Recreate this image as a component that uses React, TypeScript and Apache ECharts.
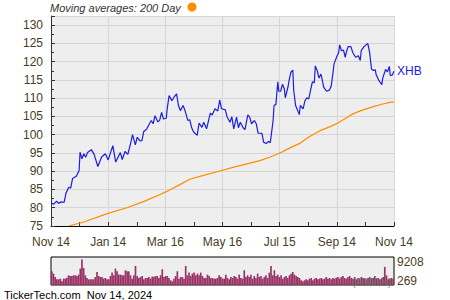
import React, { useEffect, useRef } from "react";
import * as echarts from "echarts";

// Calendar-day offset from Nov 14, 2023 and closing price
const priceDay = [0,3,6,8,11,14,16,19,21,23,27,30,31,33,35,37,39,43,46,50,54,58,61,66,69,74,76,79,82,85,87,90,92,95,97,99,102,104,107,109,111,114,116,118,120,123,124,126,129,131,134,136,138,141,143,146,148,150,152,156,158,161,163,166,170,172,175,178,180,182,186,188,191,193,195,198,200,202,205,207,210,212,214,217,219,221,225,227,230,232,234,237,238,240,242,243,245,247,249,250,253,254,256,258,259,261,265,266,269,271,273,275,277,279,281,282,284,286,288,289,291,294,297,299,301,302,305,307,308,310,312,314,315,317,320,322,325,328,330,331,334,337,338,340,342,344,346,347,350,353,354,357,359,361,362,364,366];
const priceValue = [81.3,81.0,81.8,81.2,81.6,81.5,84.0,85.6,85.4,88.0,88.6,90.2,95.2,93.4,94.8,93.8,95.1,95.9,94.6,91.3,93.9,94.8,93.1,97.0,92.5,95.1,93.2,95.4,94.6,97.7,100.0,97.2,99.3,98.3,98.4,100.9,101.5,102.5,103.9,103.0,105.2,103.5,104.0,106.1,104.3,104.5,107.1,110.7,109.3,110.2,111.2,108.0,106.6,108.0,106.6,103.9,104.1,102.0,100.8,99.8,103.2,102.0,103.4,101.6,105.9,105.4,107.1,106.5,109.5,107.1,106.8,104.8,103.4,104.9,101.6,104.8,101.9,103.4,101.9,101.4,105.4,104.8,103.0,103.9,103.0,100.4,100.4,97.9,97.6,98.2,97.8,103.9,108.0,108.3,114.5,111.9,111.9,113.8,112.5,110.1,113.2,114.8,117.1,117.7,112.1,108.0,105.5,108.0,107.1,109.3,110.1,109.8,112.2,114.5,114.2,118.8,117.6,115.5,116.6,115.5,113.0,111.9,112.2,113.3,117.1,119.4,121.4,122.5,124.6,123.0,123.2,121.2,122.5,124.1,124.1,122.5,121.2,121.6,120.3,123.0,124.1,124.8,125.0,122.5,118.0,117.6,117.8,116.4,114.8,113.7,115.5,117.9,117.2,118.7,116.2,116.3,117.4];

// 200-day moving average
const maDay = [19,35,60,81,100,117,123,138,148,159,182,195,209,223,234,246,255,266,276,287,298,306,315,322,333,344,354,363,366];
const maValue = [75.0,76.1,78.4,80.0,81.8,83.7,84.4,86.4,87.8,88.6,90.2,91.1,92.0,92.9,93.9,95.2,96.4,97.7,99.5,101.1,102.2,103.2,104.6,105.7,106.8,107.7,108.4,108.9,109.0];

// Daily volume (thousands)
const volume = [4510,3740,2640,1870,1870,2090,1210,2090,2090,2420,3190,2970,2970,3190,3190,2970,3410,5390,8360,5610,3190,2310,1870,1870,1870,1870,2640,4290,2970,2640,2640,2090,2310,1870,1870,2970,4070,3190,5390,4510,3410,3410,3190,3190,4840,4510,4510,3190,2090,3190,6270,2970,2310,2640,2970,1870,2310,2310,2640,2090,2750,2750,2970,2970,2310,3190,5170,2640,2970,2970,2310,1540,1210,2090,2970,4510,2090,2640,2640,2090,6270,3190,4070,2970,3740,4070,3190,3740,3190,4070,2970,2310,2310,3410,2970,2310,2310,2090,2090,2310,
3190,2640,2090,2090,3410,2310,1870,2640,2310,2970,2640,2090,3410,2310,2090,4840,2640,3190,2640,3410,2090,2970,2310,3740,2640,2970,2090,2640,3190,2310,4070,6270,3190,4840,2970,3410,2640,3190,2090,2640,2970,2310,3190,3740,4290,3410,2970,2640,2310,1540,1210,1540,1870,1540,2090,2310,1540,2090,2310,1870,2090,2310,1870,2090,2640,2090,2310,1870,2310,2090,2420,2640,2090,2640,2970,2310,2090,2640,2970,2310,2090,2640,1870,2310,2090,2640,2310,2090,1870,2310,2640,2090,2310,2970,2090,2310,1870,2090,2640,5940,3190,1870,2090,2310,2090];

const xTickLabels = ["Nov 14", "Jan 14", "Mar 16", "May 16", "Jul 15", "Sep 14", "Nov 14"];
const volumeLabels = ["9208", "269"];
const volumeMax = 9208;
const tickerName = "XHB";
const legendText = "Moving averages: 200 Day";
const footerText = "TickerTech.com  Nov 14, 2024";

const FONT = "'Liberation Sans', Arial, sans-serif";
const LABEL_COLOR = "#4a3b22";

export default function App() {
  const ref = useRef<HTMLDivElement>(null);
  useEffect(() => {
    if (!ref.current) return;
    const chart = echarts.init(ref.current, undefined, { renderer: "svg" });
    const priceData = priceDay.map((d, i) => [d, priceValue[i]]);
    const maData = maDay.map((d, i) => [d, maValue[i]]);
    chart.setOption({
      animation: false,
      backgroundColor: "#ffffff",
      textStyle: { fontFamily: FONT },
      grid: [
        { left: 51, right: 56, top: 16, height: 210, show: true, backgroundColor: "#eeeeee", borderWidth: 0 },
        { left: 51, right: 56, top: 257, height: 28, show: true, backgroundColor: "#eeeeee", borderColor: "#000", borderWidth: 1 },
      ],
      xAxis: [
        {
          type: "value", gridIndex: 0, min: 0, max: 366, interval: 61,
          axisLine: { show: true, onZero: false, lineStyle: { color: "#000", width: 1 } },
          axisTick: { show: true, inside: true, length: 4, lineStyle: { color: "#333" } },
          minorTick: { show: true, splitNumber: 2, length: 4, lineStyle: { color: "#333" } },
          splitLine: { show: true, lineStyle: { color: "#d6d6d6", width: 1 } },
          axisLabel: {
            color: LABEL_COLOR, fontSize: 12, fontFamily: FONT, margin: 10,
            formatter: (v: number) => xTickLabels[Math.round(v / 61)] ?? "",
          },
        },
        { type: "category", gridIndex: 1, data: volume.map((_, i) => i), show: false },
      ],
      yAxis: [
        {
          type: "value", gridIndex: 0, min: 75, max: 132.5, interval: 5,
          axisLine: { show: true, onZero: false, lineStyle: { color: "#333", width: 1 } },
          axisTick: { show: true, inside: true, length: 4, lineStyle: { color: "#333" } },
          minorTick: { show: true, splitNumber: 2, length: 3, lineStyle: { color: "#333" } },
          splitLine: { show: true, lineStyle: { color: "#d6d6d6", width: 1 } },
          axisLabel: {
            color: LABEL_COLOR, fontSize: 12, fontFamily: FONT, margin: 8,
            formatter: (v: number) => (Math.abs(v - Math.round(v / 5) * 5) < 0.01 && v <= 130 ? String(Math.round(v)) : ""),
          },
        },
        { type: "value", gridIndex: 1, min: 0, max: volumeMax, show: false, splitLine: { show: false } },
      ],
      series: [
        {
          type: "line", name: "MA200", xAxisIndex: 0, yAxisIndex: 0, data: maData,
          showSymbol: false, clip: true,
          lineStyle: { color: "#ff8c00", width: 1.2 },
        },
        {
          type: "line", name: tickerName, xAxisIndex: 0, yAxisIndex: 0, data: priceData,
          showSymbol: false, clip: true,
          lineStyle: { color: "#1c1ce6", width: 1.2 },
          endLabel: {
            show: true, formatter: tickerName, color: "#1c1ce6", fontSize: 12,
            fontFamily: FONT, distance: 3,
          },
        },
        {
          type: "bar", xAxisIndex: 1, yAxisIndex: 1, data: volume,
          barCategoryGap: "0%", itemStyle: { color: "#993366" }, silent: true,
        },
      ],
      graphic: [
        {
          type: "text", left: 50, top: 2,
          style: { text: legendText, fontSize: 11, fontStyle: "italic", fontFamily: FONT, fill: "#333" },
        },
        { type: "circle", shape: { cx: 192, cy: 7, r: 4.5 }, style: { fill: "#ff8c00" } },
        {
          type: "text", left: 397, top: 256,
          style: { text: volumeLabels[0], fontSize: 12, fontFamily: FONT, fill: LABEL_COLOR },
        },
        {
          type: "text", left: 397, top: 275,
          style: { text: volumeLabels[1], fontSize: 12, fontFamily: FONT, fill: LABEL_COLOR },
        },
        {
          type: "text", left: 352, top: 276, z: 100,
          style: { text: "(1000's)", fontSize: 11, fontFamily: FONT, fill: "rgba(80,125,95,0.85)" },
        },
        {
          type: "text", left: 4, top: 289,
          style: { text: footerText, fontSize: 11, fontFamily: FONT, fill: "#000" },
        },
      ],
    });
    return () => chart.dispose();
  }, []);
  return <div ref={ref} style={{ position: "fixed", left: 0, top: 0, width: 450, height: 300 }} />;
}
